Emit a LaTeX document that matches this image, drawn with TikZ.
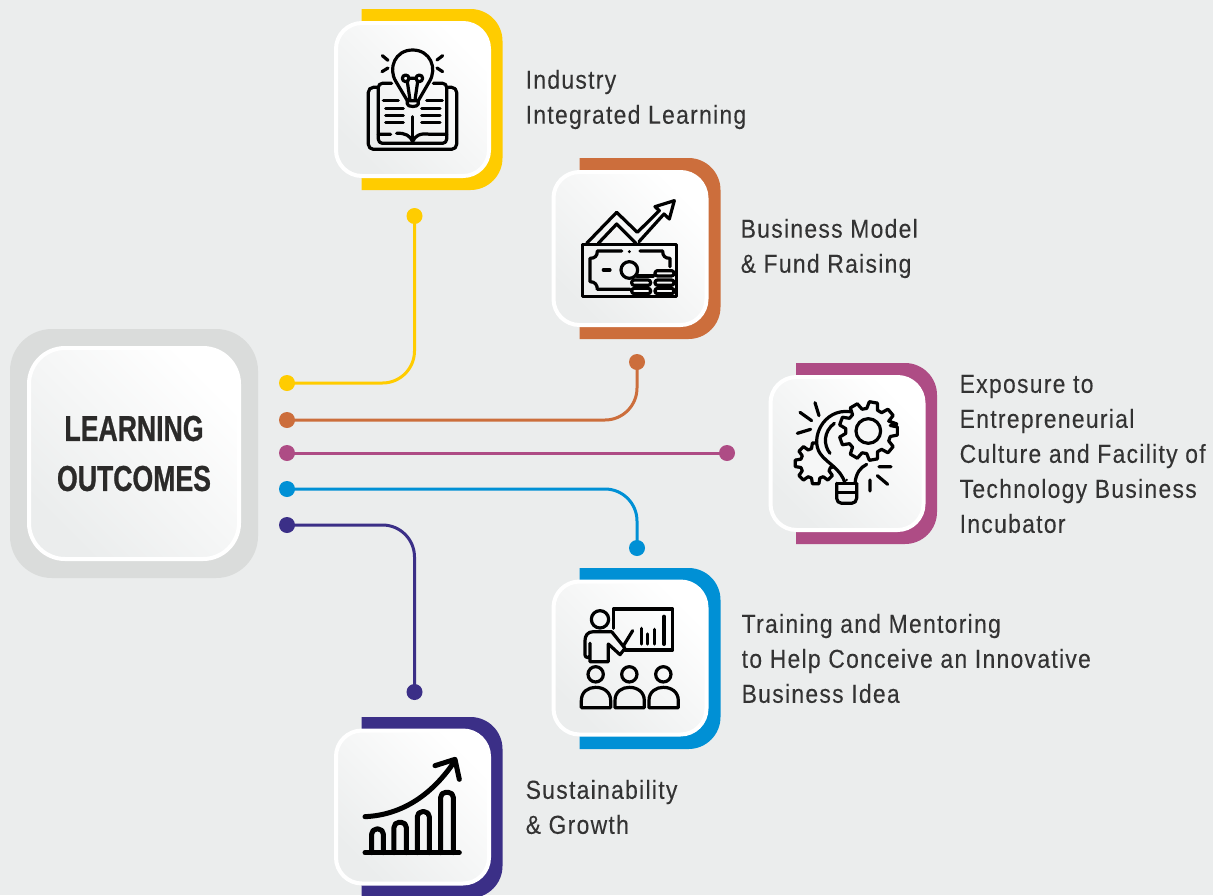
\documentclass[tikz,border=0pt]{standalone}
\usepackage{fontspec}
\setmainfont{Liberation Sans}
\newfontfamily\labelfont[FakeStretch=0.88,LetterSpace=5,FakeBold=0.15]{Liberation Sans}
\newfontfamily\titlefont[FakeStretch=0.74,FakeBold=0.7]{Liberation Sans Bold}
\definecolor{bgc}{HTML}{EBEDED}
\definecolor{ringc}{HTML}{DADCDB}
\definecolor{yelc}{HTML}{FFCC00}
\definecolor{brnc}{HTML}{CC6E3C}
\definecolor{magc}{HTML}{AE4C85}
\definecolor{bluc}{HTML}{0090D5}
\definecolor{navc}{HTML}{3B2F87}
\definecolor{txtc}{HTML}{333333}
\definecolor{ttlc}{HTML}{2B2A29}
\definecolor{midc}{HTML}{F6F7F7}
\tikzset{
  cardbox/.style={rectangle,draw=white,line width=4pt,rounded corners=26pt,minimum width=153pt,minimum height=153pt,inner sep=0pt,
    top color=white,bottom color=bgc,shading angle=-45},
  mainbox/.style={cardbox,minimum width=210pt,minimum height=211pt,rounded corners=36pt},
  pin/.style={circle,inner sep=0pt,minimum size=16pt,fill=#1},
  wire/.style={line width=3pt,rounded corners=32pt,draw=#1},
  lbl/.style={anchor=west,align=left,inner sep=0pt,text=txtc,font=\labelfont\fontsize{26}{35}\selectfont},
  ttl/.style={align=center,inner sep=0pt,text=ttlc,font=\titlefont\fontsize{36}{50}\selectfont},
  ico/.style={line width=3.2pt,line cap=round,line join=round,draw=black},
  thick ico/.style={line width=5pt,line cap=round,line join=round,draw=black},
}
\newcommand{\backshape}[3]{\fill[#3] (#1+27.5,#2-12) [rounded corners=32pt] -- (#1+168.5,#2-12) -- (#1+168.5,#2+169) [sharp corners] -- (#1+27.5,#2+169) -- cycle;}
\newcommand{\gearshape}[5]{% cx cy r1 r2 teeth
  \begin{scope}[shift={(#1,#2)}]
  \pgfmathsetmacro{\gstep}{360/#5}
  \draw[ico,fill=midc] (-.35*\gstep:#4) \foreach \k in {1,...,#5} {
     \pgfextra{\pgfmathsetmacro{\ga}{\k*\gstep-\gstep}}
     -- (\ga-.35*\gstep:#3) -- (\ga-.2*\gstep:#4) -- (\ga+.2*\gstep:#4) -- (\ga+.35*\gstep:#3)
  } -- cycle;
  \end{scope}}
\begin{document}
\begin{tikzpicture}[x=1pt,y=-1pt]
\useasboundingbox (0,0) rectangle (1213,895);
\fill[bgc] (0,0) rectangle (1213,895);
% main card
\fill[ringc,rounded corners=42pt] (10,329) rectangle (258,578);
\node[mainbox] (main) at (134,453.5) {};
\node[ttl] (title) at (134,453.5) {LEARNING\\OUTCOMES};
% cards
\backshape{334}{21}{yelc}
\backshape{552}{170}{brnc}
\backshape{768.5}{375}{magc}
\backshape{552}{580}{bluc}
\backshape{334}{729}{navc}
\node[cardbox] (c1) at (412.5,99.5) {};
\node[cardbox] (c2) at (630,248.5) {};
\node[cardbox] (c3) at (847,453.5) {};
\node[cardbox] (c4) at (630,658) {};
\node[cardbox] (c5) at (412.5,807) {};
% pins
\node[pin=yelc] (a1) at (287,383) {};
\node[pin=brnc] (a2) at (287,420) {};
\node[pin=magc] (a3) at (287,453) {};
\node[pin=bluc] (a4) at (287,489) {};
\node[pin=navc] (a5) at (287,525) {};
\node[pin=yelc] (b1) at (414.5,216) {};
\node[pin=brnc] (b2) at (637,362) {};
\node[pin=magc] (b3) at (727,453) {};
\node[pin=bluc] (b4) at (637,548) {};
\node[pin=navc] (b5) at (414.5,692) {};
\draw[wire=yelc] (a1.center) -| (b1.center);
\draw[wire=brnc] (a2.center) -| (b2.center);
\draw[wire=magc] (a3.center) -- (b3.center);
\draw[wire=bluc] (a4.center) -| (b4.center);
\draw[wire=navc] (a5.center) -| (b5.center);
% labels
\node[lbl] (t1) at (525.5,99.5) {Industry\\Integrated Learning};
\node[lbl] (t2) at (740.5,248.5) {Business Model\\\& Fund Raising};
\node[lbl] (t3) at (959.5,454) {Exposure to\\Entrepreneurial\\Culture and Facility of\\Technology Business\\Incubator};
\node[lbl] (t4) at (741.5,658.5) {Training and Mentoring\\to Help Conceive an Innovative\\Business Idea};
\node[lbl] (t5) at (525.5,807) {Sustainability\\\& Growth};
% icon 1
\begin{scope}[shift={(320pt,0pt)},x=.3333pt,y=-.3333pt]
\draw[ico] (262,302) -- (228,245) .. controls (203,205) and (225,150) .. (278,150) .. controls (331,150) and (353,205) .. (328,245) -- (295,302);
\draw[ico] (262,302) -- (295,302) -- (295,312) .. controls (295,322) and (262,322) .. (262,312) -- cycle;
\draw[ico] (257,235) circle (10) (298,235) circle (10);
\draw[ico] (262,245) -- (270,300) (293,245) -- (285,300) (267,235) -- (288,235);
\draw[ico] (187,167) -- (204,181) (186,215) -- (204,204) (368,167) -- (351,180) (368,215) -- (351,204);
\draw[ico,rounded corners=5pt] (172,262) -- (145,262) -- (145,448) -- (410,448) -- (410,262) -- (385,262);
\draw[ico,rounded corners=4pt] (215,250) -- (175,250) -- (175,430) -- (380,430) -- (380,250) -- (340,250);
\draw[ico] (175,403) -- (212,403) (230,400) .. controls (255,398) and (272,408) .. (278,425) .. controls (284,408) and (300,398) .. (330,403) -- (380,403);
\draw[ico] (278,350) -- (278,425);
\draw[ico] (190,302) -- (235,302) (197,325) -- (250,325) (197,347) -- (250,347) (197,368) -- (250,368);
\draw[ico] (320,302) -- (367,302) (305,325) -- (360,325) (305,347) -- (360,347) (305,368) -- (360,368);
\end{scope}
% icon 2
\begin{scope}[shift={(540pt,-150pt)},x=.3333pt,y=-.3333pt]
\draw[ico] (127,283) rectangle (410,440);
\draw[ico] (140,280) -- (230,187) -- (292,247) -- (358,182) -- (345,170) -- (403,152) -- (388,207) -- (372,192) -- (297,275);
\draw[ico] (175,280) -- (230,222) -- (288,280);
\draw[ico] (245,303) -- (172,303) .. controls (172,318) and (165,325) .. (150,325) -- (150,395) .. controls (165,395) and (172,405) .. (172,418) -- (270,418);
\draw[ico] (300,303) -- (368,303) .. controls (368,318) and (375,325) .. (390,325) -- (390,350);
\fill (268,305) circle (5);
\draw[ico] (190,360) -- (210,360);
\draw[ico] (268,360) circle (25);
\draw[ico] (290,378) -- (340,378);
\foreach \xa/\ya in {345/362,345/390,345/415,275/390,275/415}
  \draw[ico,rounded corners=2.5pt,fill=midc] (\xa,\ya) rectangle (\xa+57,\ya+16);
\end{scope}
% icon 3
\begin{scope}[shift={(755pt,-355pt)},x=.3333pt,y=-.3333pt]
\gearshape{182}{325}{46}{62}{8}
\fill[midc] (270,385) .. controls (258,340) and (215,325) .. (195,295) .. controls (165,250) and (205,160) .. (285,170) -- (320,240) -- (300,385) -- cycle;
\draw[ico] (270,385) .. controls (258,340) and (215,325) .. (195,295) .. controls (165,250) and (205,160) .. (285,170);
\gearshape{340}{228}{68}{88}{9}
\draw[ico] (340,228) circle (37);
\draw[ico] (238,205) .. controls (205,230) and (205,270) .. (225,295);
\draw[ico] (335,328) .. controls (315,338) and (303,355) .. (300,385);
\draw[ico] (245,385) -- (305,385);
\draw[ico,rounded corners=5pt] (245,385) -- (245,445) -- (305,445) -- (305,385);
\draw[ico] (248,412) -- (302,412);
\fill (275,375) circle (4);
\draw[ico] (135,172) -- (170,197) (180,143) -- (192,182) (127,235) -- (167,223);
\draw[ico] (372,335) -- (408,335) (367,362) -- (398,388) (345,375) -- (345,408);
\end{scope}
% icon 4
\begin{scope}[shift={(540pt,-560pt)},x=.3333pt,y=-.3333pt]
\draw[ico] (220,205) -- (220,147) -- (398,147) -- (398,270) -- (255,270);
\draw[ico] (305,205) -- (305,252) (322,222) -- (322,252) (343,208) -- (343,252);
\draw[line width=4pt,line cap=round] (372,170) -- (372,252);
\draw[ico] (180,178) circle (26);
\draw[ico] (215,215) -- (160,215) .. controls (142,215) and (135,228) .. (135,242) -- (135,285) .. controls (135,295) and (150,295) .. (150,285) -- (150,250) (150,285) -- (150,305) -- (205,305) -- (205,252) -- (240,284) -- (255,265) -- (215,215);
\draw[ico] (250,258) -- (278,212);
\foreach \d in {0,101,203} {
  \draw[ico] (167+\d,343) circle (23);
  \draw[ico] (124+\d,443) -- (124+\d,422) .. controls (124+\d,395) and (145+\d,382) .. (167+\d,382) .. controls (190+\d,382) and (212+\d,395) .. (212+\d,422) -- (212+\d,443) -- cycle;
}
\end{scope}
% icon 5
\begin{scope}[shift={(320pt,-700pt)},x=.3333pt,y=-.3333pt]
\draw[thick ico] (135,350) .. controls (250,345) and (340,280) .. (405,182);
\draw[thick ico] (345,197) -- (405,178) -- (418,238);
\draw[thick ico] (135,458) -- (418,458);
\foreach \xl/\xr/\yt in {155/190/387,222/259/367,292/328/335,362/400/277}
  \draw[thick ico,rounded corners=5pt] (\xl,458) -- (\xl,\yt) -- (\xr,\yt) -- (\xr,458);
\end{scope}
\end{tikzpicture}
\end{document}
